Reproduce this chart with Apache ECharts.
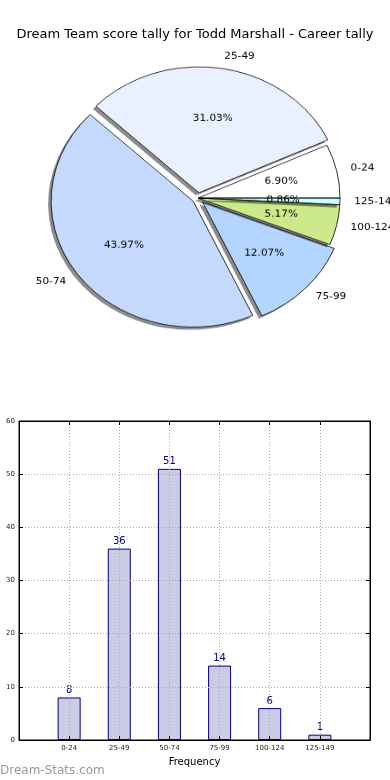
<!DOCTYPE html>
<html><head><meta charset="utf-8">
<script src="https://cdn.jsdelivr.net/npm/echarts@6/dist/echarts.min.js"></script>
<style>
html,body{margin:0;padding:0;background:#fff}
#main{position:absolute;left:0;top:0;width:390px;height:780px}
#pie{position:absolute;left:0;top:0;width:390px;height:400px;transform-origin:198px 198px;transform:scaleY(0.887)}
</style></head><body>
<div id="main"></div><div id="pie"></div>
<script>
// ---- data ----
const categories = ['0-24', '25-49', '50-74', '75-99', '100-124', '125-149'];
const counts = [8, 36, 51, 14, 6, 1];
const titleText = 'Dream Team score tally for Todd Marshall - Career tally';
const xAxisName = 'Frequency';
const watermarkText = 'Dream-Stats.com';

// ---- style ----
const sliceColors = ['#ffffff', '#e9f0ff', '#c5d9ff', '#b3d5ff', '#cdea8a', '#ccffff'];
const explodedSlices = ['25-49', '50-74', '75-99'];
const FONT = 'DejaVu Sans';
const R = 142;
const total = counts.reduce((a, b) => a + b, 0);

const fillStyle = {borderWidth: 0, shadowColor: 'rgba(0,0,0,0.45)', shadowOffsetX: -3, shadowOffsetY: 3, shadowBlur: 0};
const edgeStyle = {color: 'rgba(0,0,0,0)', borderColor: '#000', borderWidth: 0.8};
const clearStyle = {color: 'rgba(0,0,0,0)', borderWidth: 0};

function sliceData(withColor) {
  return categories.map((c, i) => {
    const d = {name: c, value: counts[i], selected: explodedSlices.includes(c)};
    if (withColor) d.itemStyle = {color: sliceColors[i]};
    return d;
  });
}
const pieBase = {type: 'pie', center: [198, 198], startAngle: 0, clockwise: false,
  selectedMode: 'multiple', selectedOffset: 6, avoidLabelOverlap: false, emphasis: {disabled: true}};

const pieChart = echarts.init(document.getElementById('pie'), null, {renderer: 'canvas'});
pieChart.setOption({
  animation: false,
  series: [
    Object.assign({}, pieBase, {
      radius: R, itemStyle: fillStyle, select: {itemStyle: fillStyle},
      label: {show: false}, labelLine: {show: false},
      data: sliceData(true)
    }),
    Object.assign({}, pieBase, {
      radius: R, itemStyle: edgeStyle, select: {itemStyle: edgeStyle, label: {color: '#000'}},
      label: {show: true, position: 'outside', fontFamily: FONT, fontSize: 10.5, color: '#000', distanceToLabelLine: 0},
      labelLine: {show: false, length: R * 0.1, length2: 0},
      data: sliceData(false)
    }),
    Object.assign({}, pieBase, {
      radius: 2 * (0.6 * R - 3), itemStyle: clearStyle, select: {itemStyle: clearStyle, label: {color: '#000'}},
      label: {show: true, position: 'inside', fontFamily: FONT, fontSize: 10.5, color: '#000',
        formatter: p => (p.value / total * 100).toFixed(2) + '%'},
      labelLine: {show: false},
      data: sliceData(false)
    })
  ]
});

const axisCommonX = {type: 'value', min: -1, max: 6, interval: 1};
const axisCommonY = {type: 'value', min: 0, max: 60, interval: 10};
const blackLine = {show: true, onZero: false, lineStyle: {color: '#000', width: 1}};
const innerTick = {show: true, inside: true, length: 4, lineStyle: {color: '#000'}};
const dotted = {show: true, showMinLine: false, showMaxLine: false, lineStyle: {type: [1, 2], color: '#aaa', width: 1}};

const mainChart = echarts.init(document.getElementById('main'), null, {renderer: 'canvas'});
mainChart.setOption({
  animation: false,
  backgroundColor: '#fff',
  title: {text: titleText, left: 'center', top: 23,
    textStyle: {fontFamily: FONT, fontSize: 13, fontWeight: 'normal', color: '#000'}},
  grid: {left: 19, right: 20, top: 421, bottom: 40, show: true, borderColor: '#000', borderWidth: 1, backgroundColor: '#fff'},
  xAxis: [
    Object.assign({}, axisCommonX, {position: 'bottom', z: 3, axisLine: blackLine, axisTick: innerTick,
      axisLabel: {formatter: v => categories[v] || '', fontFamily: FONT, fontSize: 7, color: '#222', margin: 5},
      splitLine: dotted,
      name: xAxisName, nameLocation: 'middle', nameGap: 17,
      nameTextStyle: {fontFamily: FONT, fontSize: 10, color: '#000'}}),
    Object.assign({}, axisCommonX, {position: 'top', z: 3, axisLine: blackLine, axisTick: innerTick,
      axisLabel: {show: false}, splitLine: {show: false}})
  ],
  yAxis: [
    Object.assign({}, axisCommonY, {position: 'left', z: 3, axisLine: blackLine, axisTick: innerTick,
      axisLabel: {fontFamily: FONT, fontSize: 7, color: '#222', margin: 4},
      splitLine: dotted}),
    Object.assign({}, axisCommonY, {position: 'right', z: 3, axisLine: blackLine, axisTick: innerTick,
      axisLabel: {show: false}, splitLine: {show: false}})
  ],
  graphic: [{type: 'text', left: 0, bottom: 3,
    style: {text: watermarkText, fontFamily: FONT, fontSize: 12, fill: '#999999'}}],
  series: [{
    type: 'bar', xAxisIndex: 0, yAxisIndex: 0, barWidth: 23,
    data: counts.map((v, i) => [i, v]),
    itemStyle: {color: '#cbcbe3', borderColor: '#000080', borderWidth: 1},
    label: {show: true, position: 'top', distance: 2, color: '#000080', fontFamily: FONT, fontSize: 10},
    emphasis: {disabled: true}
  }]
});
</script>
</body></html>
